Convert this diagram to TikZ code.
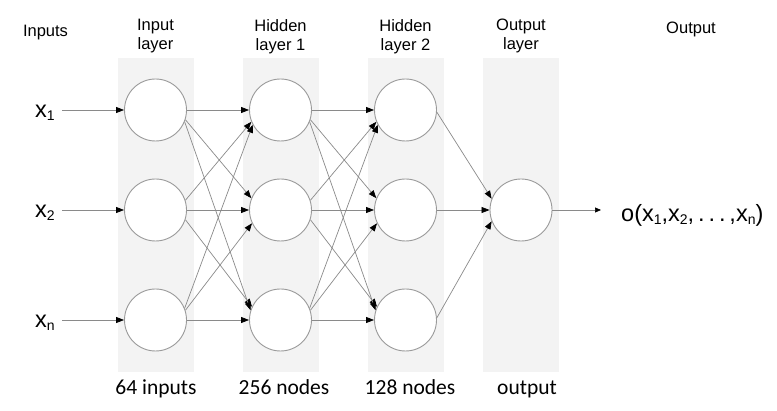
\documentclass[tikz,border=0pt]{standalone}
\usepackage{fontspec}
\setmainfont{Liberation Sans}
\newfontfamily\countfont{Carlito}
\usetikzlibrary{arrows.meta}

\definecolor{colbg}{HTML}{F3F3F3}
\definecolor{edgegray}{HTML}{8A8A8A}
\definecolor{ringgray}{HTML}{9A9A9A}

% subscript set low beside a letter
\newcommand\lowsub[1]{\raisebox{-3pt}{\fontsize{14}{14}\selectfont #1}}

\begin{document}
\begin{tikzpicture}[x=1pt,y=-1pt,
  neuron/.style={circle, draw=ringgray, line width=0.9pt, fill=white,
                 minimum size=62pt, inner sep=0pt},
  link/.style={draw=edgegray, line width=0.7pt,
               -{Triangle[length=8pt,width=6pt,color=black,fill=black]}},
  layerband/.style={fill=colbg},
  header/.style={font=\fontsize{16.5}{19}\selectfont, align=center, inner sep=0pt},
  varlabel/.style={font=\fontsize{23.5}{23.5}\selectfont, inner sep=0pt, anchor=base west},
  countlabel/.style={font=\countfont\fontsize{21.5}{21.5}\selectfont, inner sep=0pt, anchor=base}
]
\useasboundingbox (0,0) rectangle (777,411);
\fill[white] (0,0) rectangle (777,411);

% shaded layer bands
\fill[layerband] (117.5,58) rectangle (193.5,372);
\fill[layerband] (242.5,58) rectangle (318.5,372);
\fill[layerband] (367.5,58) rectangle (443.5,372);
\fill[layerband] (483,58) rectangle (559,372);

% headers
\node[header, anchor=base] (hin) at (45.5,37) {Inputs};
\node[header, anchor=north] (hil) at (155.5,19) {Input\\layer};
\node[header, anchor=north] (hh1) at (280.5,19) {Hidden\\layer 1};
\node[header, anchor=north] (hh2) at (405.5,19) {Hidden\\layer 2};
\node[header, anchor=north] (hol) at (521,19) {Output\\layer};
\node[header, anchor=base] (hout) at (691,34) {Output};

% neurons
\foreach \r/\y in {1/110,2/210,3/320}{
  \node[neuron] (i\r) at (155.5,\y) {};
  \node[neuron] (a\r) at (280.5,\y) {};
  \node[neuron] (b\r) at (405.5,\y) {};
  \coordinate (in\r) at (62,\y);
}
\node[neuron] (o) at (521,210) {};

% input variables
\node[varlabel] (x1) at (35,118) {x\lowsub{1}};
\node[varlabel] (x2) at (35,218) {x\lowsub{2}};
\node[varlabel] (xn) at (35,328) {x\lowsub{n}};
\foreach \r in {1,2,3}{ \draw[link] (in\r) -- (i\r.west); }

% fully connected layers
\foreach \s/\t in {i/a, a/b}{
  \foreach \r in {1,2,3}{ \draw[link] (\s\r.east) -- (\t\r.west); }
  \draw[link] (\s1.-18) -- (\t2.158);
  \draw[link] (\s2.-18) -- (\t3.155);
  \draw[link] (\s2.18)  -- (\t1.202);
  \draw[link] (\s3.18)  -- (\t2.205);
  \draw[link] (\s1.-22) -- (\t3.162);
  \draw[link] (\s3.22)  -- (\t1.208);
}

% into the output neuron
\draw[link] (b1.-4) -- (o.159);
\draw[link] (b2.east) -- (o.west);
\draw[link] (b3.4) -- (o.201);

% result
\coordinate (res) at (601,210);
\draw[draw=edgegray, line width=0.7pt,
      -{Triangle[length=6pt,width=5pt,color=black,fill=black]}] (o.east) -- (res);
\node[varlabel] (f) at (621,222) {o(x\lowsub{1},x\lowsub{2},\,.\,.\,.\,,x\lowsub{n})};

% layer sizes
\node[countlabel] (c1) at (156,395) {64 inputs};
\node[countlabel] (c2) at (284,395) {256 nodes};
\node[countlabel] (c3) at (410,395) {128 nodes};
\node[countlabel] (c4) at (527,395) {output};
\end{tikzpicture}
\end{document}
